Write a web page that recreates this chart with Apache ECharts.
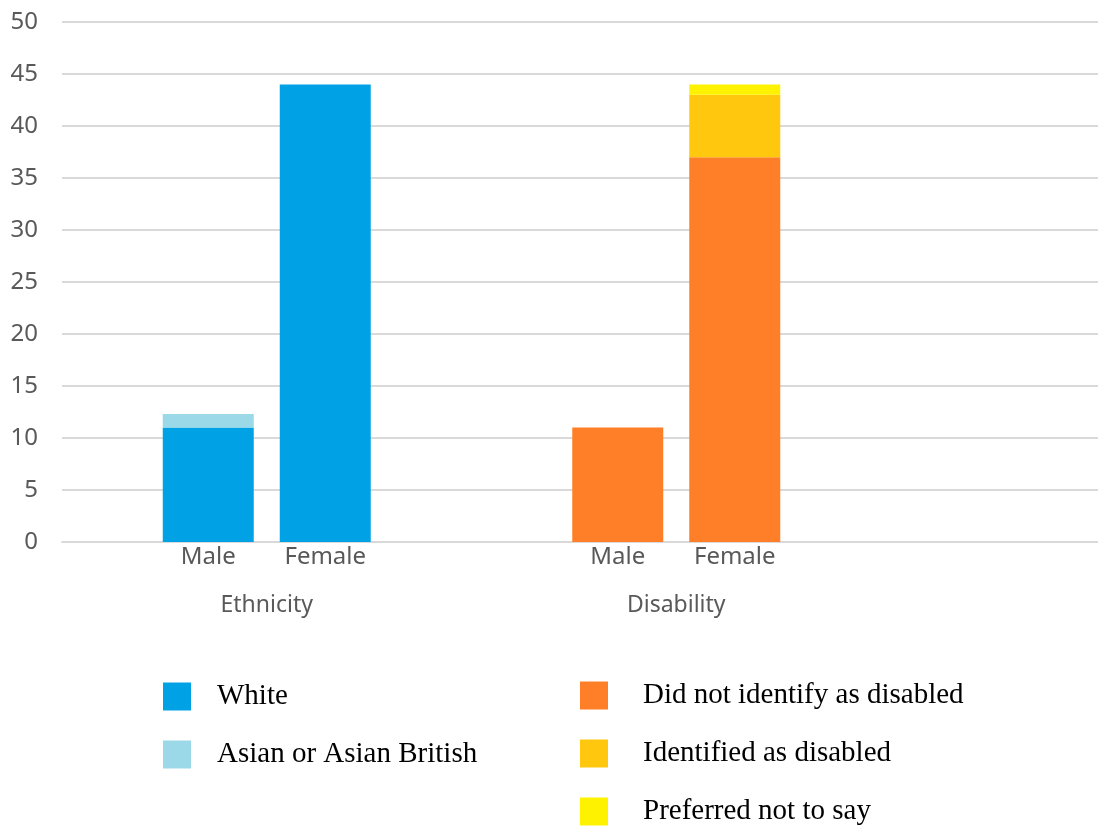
<!DOCTYPE html>
<html>
<head>
<meta charset="utf-8">
<script src="https://cdn.jsdelivr.net/npm/echarts@6/dist/echarts.min.js"></script>
<style>
  html, body { margin: 0; padding: 0; background: #ffffff; }
  #chart { width: 1098px; height: 826px; }
</style>
</head>
<body>
<div id="chart"></div>
<script>
// Category groups and the sub-categories shown under each group
const groups = ['Ethnicity', 'Disability'];
const genders = ['Male', 'Female'];

// Ethnicity counts (Male, Female)
const white = [11, 44];
const asian = [1.3, 0];

// Disability counts (Male, Female)
const notDisabled = [11, 37];
const disabled = [0, 6];
const preferNot = [0, 1];

// Value axis
const yMin = 0, yMax = 50, yStep = 5;

// Slot layout on the category axis: each group takes two bar slots
// with a label slot between them, and the groups are spaced apart.
const SLOTS = 18;
const groupStart = [2, 9];

const barCats = new Array(SLOTS).fill('');
const groupCats = new Array(SLOTS).fill('');
groups.forEach((g, gi) => {
  genders.forEach((s, si) => { barCats[groupStart[gi] + 2 * si] = s; });
  groupCats[groupStart[gi] + 1] = g;
});

function place(gi, values) {
  const arr = new Array(SLOTS).fill(null);
  values.forEach((v, si) => { arr[groupStart[gi] + 2 * si] = v; });
  return arr;
}

const seriesDefs = [
  { name: 'White', group: 0, values: white, color: '#00a2e5' },
  { name: 'Asian or Asian British', group: 0, values: asian, color: '#9bd8e8' },
  { name: 'Did not identify as disabled', group: 1, values: notDisabled, color: '#fe7f27' },
  { name: 'Identified as disabled', group: 1, values: disabled, color: '#ffc80f' },
  { name: 'Preferred not to say', group: 1, values: preferNot, color: '#fff200' }
];

const axisFont = 'Noto Sans, Open Sans, sans-serif';
const legendText = {
  fontFamily: 'Liberation Serif, Times New Roman, serif',
  fontSize: 29,
  color: '#000000',
  lineHeight: 28
};

const chart = echarts.init(document.getElementById('chart'), null, { renderer: 'canvas' });

chart.setOption({
  animation: false,
  backgroundColor: '#ffffff',
  grid: {
    left: 62,
    top: 22,
    width: 58.5 * SLOTS,
    height: 520,
    outerBoundsMode: 'none',
    containLabel: false
  },
  xAxis: [
    {
      type: 'category',
      data: barCats,
      axisLine: { show: true, lineStyle: { color: '#d9d9d9', width: 2 } },
      axisTick: { show: false },
      axisLabel: {
        interval: 0,
        margin: 3,
        color: '#595959',
        fontFamily: axisFont,
        fontSize: 24
      },
      splitLine: { show: false }
    },
    {
      type: 'category',
      data: groupCats,
      position: 'bottom',
      offset: 48,
      axisLine: { show: false },
      axisTick: { show: false },
      axisLabel: {
        interval: 0,
        margin: 4,
        color: '#595959',
        fontFamily: axisFont,
        fontSize: 23
      },
      splitLine: { show: false }
    }
  ],
  yAxis: {
    type: 'value',
    min: yMin,
    max: yMax,
    interval: yStep,
    axisLine: { show: false },
    axisTick: { show: false },
    axisLabel: {
      margin: 24,
      color: '#595959',
      fontFamily: axisFont,
      fontSize: 24
    },
    splitLine: { show: true, lineStyle: { color: '#d9d9d9', width: 2 } }
  },
  legend: [
    {
      data: seriesDefs.filter(s => s.group === 0).map(s => s.name),
      orient: 'vertical',
      left: 163,
      top: 682,
      padding: 0,
      icon: 'rect',
      itemWidth: 28,
      itemHeight: 28,
      itemGap: 29,
      selectedMode: false,
      textStyle: Object.assign({ padding: [0, 0, 0, 21] }, legendText)
    },
    {
      data: seriesDefs.filter(s => s.group === 1).map(s => s.name),
      orient: 'vertical',
      left: 580,
      top: 681,
      padding: 0,
      icon: 'rect',
      itemWidth: 28,
      itemHeight: 28,
      itemGap: 29,
      selectedMode: false,
      textStyle: Object.assign({ padding: [0, 0, 0, 30] }, legendText)
    }
  ],
  series: seriesDefs.map(s => ({
    name: s.name,
    type: 'bar',
    stack: 'total',
    xAxisIndex: 0,
    barWidth: 91,
    data: place(s.group, s.values),
    itemStyle: { color: s.color }
  }))
});
</script>
</body>
</html>
